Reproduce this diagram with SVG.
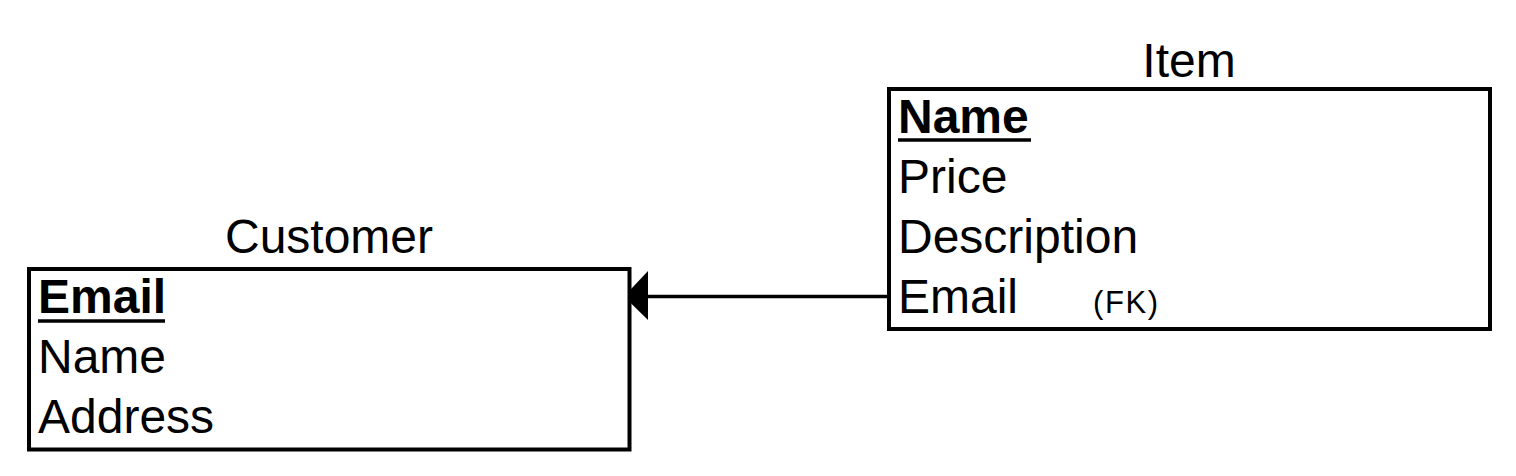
<svg xmlns="http://www.w3.org/2000/svg" width="1516" height="476" viewBox="0 0 1516 476">
  <style>
    .box { fill: #ffffff; stroke: #000000; stroke-width: 4; }
    .t { font-family: "Liberation Sans", Arial, sans-serif; font-size: 48px; fill: #000000; }
    .b { font-weight: bold; }
    .fk { font-family: "Liberation Sans", Arial, sans-serif; font-size: 31px; fill: #000000; }
    .ul { stroke: #000000; stroke-width: 3.5; }
    .conn { stroke: #000000; stroke-width: 3.5; fill: none; }
    .head { fill: #000000; }
  </style>
  <rect width="1516" height="476" fill="#ffffff"/>

  <g id="connectors">
    <line class="conn" x1="889" y1="296.5" x2="640" y2="296.5"/>
    <path class="head" d="M624,296.5 L648,271 L648,320 Z"/>
  </g>

  <g id="customer">
    <text class="t" x="329" y="253" text-anchor="middle">Customer</text>
    <rect class="box" x="29" y="269" width="600.5" height="180.5"/>
    <text class="t b" x="38" y="313">Email</text>
    <line class="ul" x1="38" y1="321" x2="165" y2="321"/>
    <text class="t" x="38" y="373">Name</text>
    <text class="t" x="38" y="433">Address</text>
  </g>

  <g id="item">
    <text class="t" x="1189" y="77" text-anchor="middle">Item</text>
    <rect class="box" x="889" y="89" width="601" height="240"/>
    <text class="t b" x="898" y="133">Name</text>
    <line class="ul" x1="898" y1="140" x2="1031" y2="140"/>
    <text class="t" x="898" y="193">Price</text>
    <text class="t" x="898" y="253">Description</text>
    <text class="t" x="898" y="313">Email</text>
    <text class="fk" x="1093" y="313" textLength="65" lengthAdjust="spacing">(FK)</text>
  </g>
</svg>
